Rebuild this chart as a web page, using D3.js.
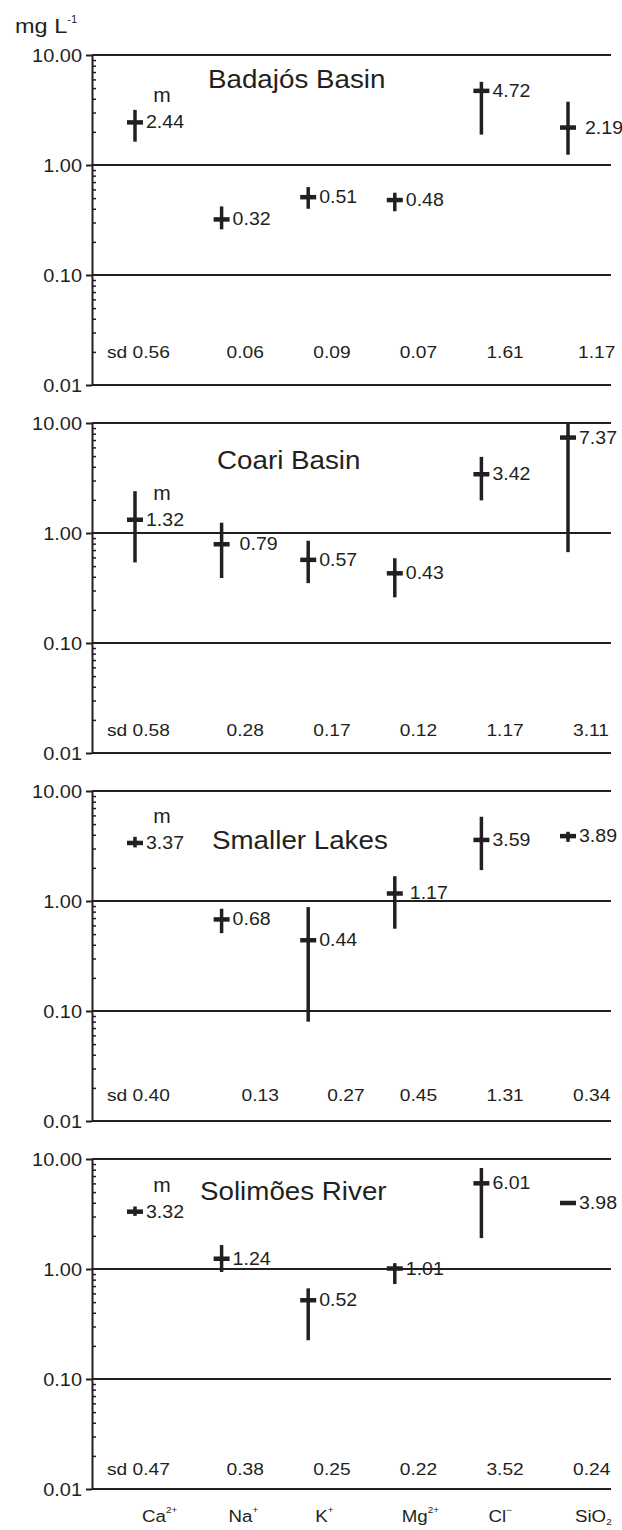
<!DOCTYPE html>
<html>
<head>
<meta charset="utf-8">
<script src="https://cdn.jsdelivr.net/npm/d3@7"></script>
<style>
body { margin: 0; background: #fff; }
svg text { font-family: "Liberation Sans", Arial, sans-serif; fill: #231f20; }
</style>
</head>
<body>
<div id="chart"></div>
<script>
// ions on the x axis (base + charge / subscript)
var ions = ["Ca", "Na", "K", "Mg", "Cl", "SiO"];
var ionScript = ["2+", "+", "+", "2+", "\u2212", "2"];
var ionScriptIsSub = [false, false, false, false, false, true];

var basins = ["Badajós Basin", "Coari Basin", "Smaller Lakes", "Solimões River"];
var yTicks = [0.01, 0.1, 1, 10];

// Badajós Basin
var meanBadajos = [2.44, 0.32, 0.51, 0.48, 4.72, 2.19];
var sdBadajos = [0.56, 0.06, 0.09, 0.07, 1.61, 1.17];
var lowBadajos = [1.63, 0.26, 0.40, 0.38, 1.89, 1.24];
var highBadajos = [3.17, 0.42, 0.63, 0.56, 5.70, 3.76];

// Coari Basin
var meanCoari = [1.32, 0.79, 0.57, 0.43, 3.42, 7.37];
var sdCoari = [0.58, 0.28, 0.17, 0.12, 1.17, 3.11];
var lowCoari = [0.54, 0.39, 0.35, 0.26, 1.98, 0.67];
var highCoari = [2.40, 1.24, 0.85, 0.59, 4.92, 10.0];

// Smaller Lakes
var meanLakes = [3.37, 0.68, 0.44, 1.17, 3.59, 3.89];
var sdLakes = [0.40, 0.13, 0.27, 0.45, 1.31, 0.34];
var lowLakes = [3.07, 0.51, 0.08, 0.56, 1.91, 3.45];
var highLakes = [3.83, 0.85, 0.88, 1.68, 5.83, 4.26];

// Solimões River
var meanSolimoes = [3.32, 1.24, 0.52, 1.01, 6.01, 3.98];
var sdSolimoes = [0.47, 0.38, 0.25, 0.22, 3.52, 0.24];
var lowSolimoes = [3.04, 0.94, 0.225, 0.73, 1.91, 3.85];
var highSolimoes = [3.70, 1.65, 0.667, 1.13, 8.28, 4.10];

var panels = [
	{name: basins[0], mean: meanBadajos, sd: sdBadajos, low: lowBadajos, high: highBadajos},
	{name: basins[1], mean: meanCoari, sd: sdCoari, low: lowCoari, high: highCoari},
	{name: basins[2], mean: meanLakes, sd: sdLakes, low: lowLakes, high: highLakes},
	{name: basins[3], mean: meanSolimoes, sd: sdSolimoes, low: lowSolimoes, high: highSolimoes}
];

// layout
var width = 622, height = 1530;
var axisX = 92, rightX = 611;
var panelTop = [55, 423, 791, 1159];
var panelH = 330;
var titleX = [208, 217, 212, 200];
var titleDy = [33, 46, 58, 41];
var sdDy = [303, 313, 310, 316];
var valueNudge = {"0-5": 6, "1-1": 7, "2-3": 4};
var sdNudge = {"0-5": 5, "2-1": 15, "2-2": 14};
var ink = "#231f20";

var svg = d3.select("#chart").append("svg")
	.attr("width", width)
	.attr("height", height);

var x = d3.scalePoint()
	.domain(ions)
	.range([135, 568]);

var fmt = d3.format(".2f");

function stretched(sel, tx, ty, sx) {
	return sel.attr("transform", "translate(" + tx + "," + ty + ") scale(" + sx + ",1)");
}

// unit label
var unit = svg.append("text").attr("font-size", 21);
stretched(unit, 15, 33, 1.12);
unit.append("tspan").text("mg L");
unit.append("tspan").attr("font-size", 10).attr("dy", -10).text("-1");

panels.forEach(function(p, pi) {
	var top = panelTop[pi];
	var y = d3.scaleLog()
		.domain([0.01, 10])
		.range([top + panelH, top]);

	var g = svg.append("g");

	// horizontal lines at each decade
	g.selectAll(".grid")
		.data(yTicks)
		.enter().append("line")
		.attr("x1", axisX).attr("x2", rightX)
		.attr("y1", function(d) { return y(d); })
		.attr("y2", function(d) { return y(d); })
		.attr("stroke", ink)
		.attr("stroke-width", 2);

	// minor ticks (inside)
	var minors = y.ticks().filter(function(d) { return yTicks.indexOf(d) < 0; });
	var minorAxis = g.append("g")
		.attr("transform", "translate(" + axisX + ",0)")
		.call(d3.axisRight(y).tickValues(minors).tickSize(4).tickFormat(""));
	minorAxis.select(".domain").remove();
	minorAxis.selectAll("line").attr("stroke", ink).attr("stroke-width", 1.5);

	// main axis
	var yAxis = g.append("g")
		.attr("transform", "translate(" + axisX + ",0)")
		.call(d3.axisLeft(y).tickValues(yTicks).tickFormat(fmt).tickSize(6).tickSizeOuter(0).tickPadding(3));
	yAxis.select(".domain").attr("stroke", ink).attr("stroke-width", 2);
	yAxis.selectAll("line").attr("stroke", ink).attr("stroke-width", 2);
	yAxis.selectAll("text")
		.attr("font-size", 18)
		.attr("font-family", "Liberation Sans, Arial, sans-serif")
		.attr("fill", ink)
		.attr("x", null).attr("dy", null)
		.attr("transform", "translate(-10,6) scale(1.11,1)");

	// title
	var title = g.append("text").attr("font-size", 25).text(p.name);
	stretched(title, titleX[pi], top + titleDy[pi], 1.11);

	var rows = ions.map(function(ion, i) {
		return {ion: ion, i: i, mean: p.mean[i], sd: p.sd[i], low: p.low[i], high: p.high[i]};
	});

	// range bars
	g.selectAll(".bar")
		.data(rows)
		.enter().append("line")
		.attr("x1", function(d) { return x(d.ion); })
		.attr("x2", function(d) { return x(d.ion); })
		.attr("y1", function(d) { return y(d.low); })
		.attr("y2", function(d) { return y(d.high); })
		.attr("stroke", ink)
		.attr("stroke-width", 3.5);

	// mean crossbars
	g.selectAll(".mean")
		.data(rows)
		.enter().append("line")
		.attr("x1", function(d) { return x(d.ion) - 8; })
		.attr("x2", function(d) { return x(d.ion) + 8; })
		.attr("y1", function(d) { return y(d.mean); })
		.attr("y2", function(d) { return y(d.mean); })
		.attr("stroke", ink)
		.attr("stroke-width", 4.5);

	// mean values
	g.selectAll(".val")
		.data(rows)
		.enter().append("text")
		.attr("font-size", 19)
		.attr("transform", function(d) {
			var n = valueNudge[pi + "-" + d.i] || 0;
			return "translate(" + (x(d.ion) + 11 + n) + "," + (y(d.mean) + 6) + ") scale(1.03,1)";
		})
		.text(function(d) { return fmt(d.mean); });

	// "m" marker over the first ion
	var m = g.append("text").attr("font-size", 20).attr("text-anchor", "middle").text("m");
	stretched(m, x(ions[0]) + 27, y(p.mean[0]) - 20, 1.05);

	// standard deviations
	g.selectAll(".sd")
		.data(rows)
		.enter().append("text")
		.attr("font-size", 17)
		.attr("transform", function(d) {
			var n = sdNudge[pi + "-" + d.i] || 0;
			var sx = d.i == 0 ? x(d.ion) - 28 : x(d.ion) + 5 + n;
			return "translate(" + sx + "," + (top + sdDy[pi]) + ") scale(1.13,1)";
		})
		.text(function(d) { return (d.i == 0 ? "sd " : "") + fmt(d.sd); });
});

// ion labels along the bottom
var ionLabels = svg.selectAll(".ion")
	.data(ions)
	.enter().append("text")
	.attr("font-size", 17)
	.attr("transform", function(d) { return "translate(" + (x(d) + 7) + ",1522) scale(1.1,1)"; });
ionLabels.append("tspan").text(function(d) { return d; });
ionLabels.append("tspan")
	.attr("font-size", 9)
	.attr("dy", function(d, i) { return ionScriptIsSub[i] ? 3 : -9; })
	.text(function(d, i) { return ionScript[i]; });
</script>
</body>
</html>
